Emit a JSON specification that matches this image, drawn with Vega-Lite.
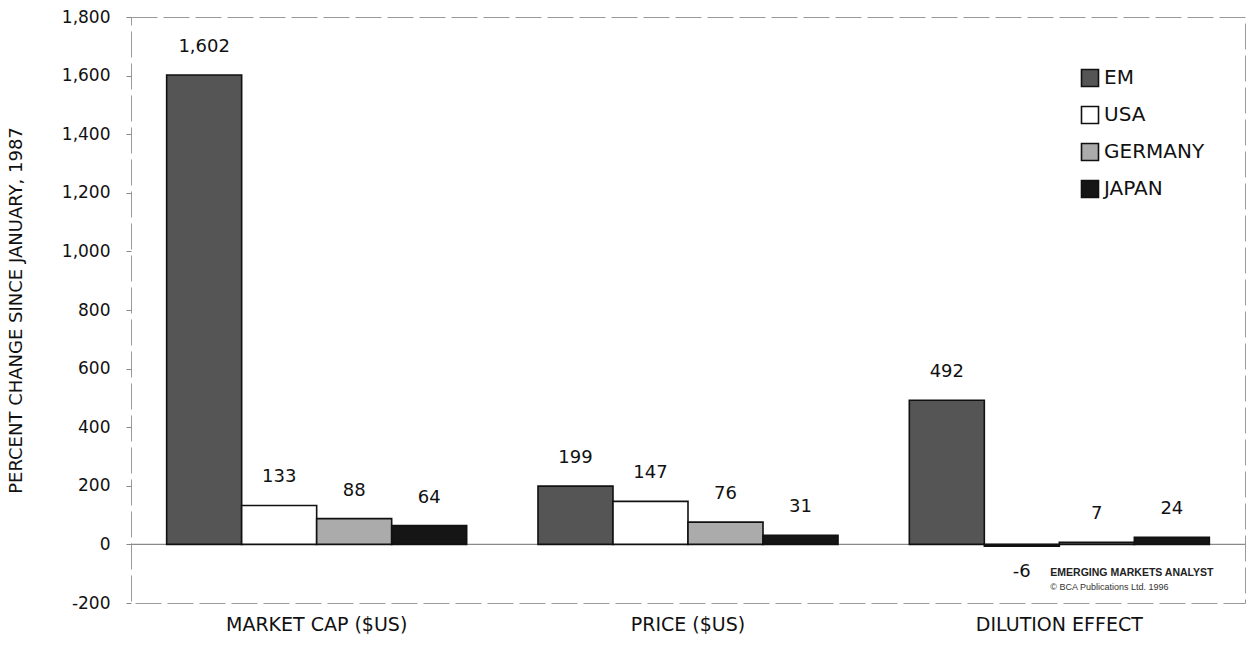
{
  "$schema": "https://vega.github.io/schema/vega-lite/v6.json",
  "width": 1114,
  "height": 586,
  "autosize": {"type": "none"},
  "padding": {"left": 131, "top": 17, "right": 8, "bottom": 42},
  "background": "white",
  "config": {
    "font": "DejaVu Sans",
    "view": {"stroke": "#9a9a9a", "strokeDash": [26, 6], "strokeWidth": 1}
  },
  "data": {
    "values": [
      {"measure": "MARKET CAP ($US)", "country": "EM", "value": 1602},
      {"measure": "MARKET CAP ($US)", "country": "USA", "value": 133},
      {"measure": "MARKET CAP ($US)", "country": "GERMANY", "value": 88},
      {"measure": "MARKET CAP ($US)", "country": "JAPAN", "value": 64},
      {"measure": "PRICE ($US)", "country": "EM", "value": 199},
      {"measure": "PRICE ($US)", "country": "USA", "value": 147},
      {"measure": "PRICE ($US)", "country": "GERMANY", "value": 76},
      {"measure": "PRICE ($US)", "country": "JAPAN", "value": 31},
      {"measure": "DILUTION EFFECT", "country": "EM", "value": 492},
      {"measure": "DILUTION EFFECT", "country": "USA", "value": -6},
      {"measure": "DILUTION EFFECT", "country": "GERMANY", "value": 7},
      {"measure": "DILUTION EFFECT", "country": "JAPAN", "value": 24}
    ]
  },
  "layer": [
    {
      "data": {"values": [{}]},
      "mark": {"type": "rule", "color": "#8a8a8a", "strokeWidth": 1.2},
      "encoding": {
        "y": {"datum": 0, "type": "quantitative", "scale": {"domain": [-200, 1800], "nice": false, "zero": false}}
      }
    },
    {
      "mark": {"type": "bar", "stroke": "#111", "strokeWidth": 1.6},
      "encoding": {
        "x": {
          "field": "measure", "type": "nominal",
          "sort": ["MARKET CAP ($US)", "PRICE ($US)", "DILUTION EFFECT"],
          "scale": {"paddingInner": 0.192, "paddingOuter": 0.096},
          "title": null,
          "axis": {"domain": false, "ticks": false, "labelAngle": 0, "labelFontSize": 19, "labelColor": "#111", "labelPadding": 21, "labelBaseline": "middle", "labelLimit": 0}
        },
        "xOffset": {
          "field": "country", "type": "nominal",
          "sort": ["EM", "USA", "GERMANY", "JAPAN"],
          "scale": {"paddingInner": 0, "paddingOuter": 0}
        },
        "y": {
          "field": "value", "type": "quantitative",
          "scale": {"domain": [-200, 1800], "nice": false, "zero": false},
          "title": "PERCENT CHANGE SINCE JANUARY, 1987",
          "axis": {
            "values": [-200, 0, 200, 400, 600, 800, 1000, 1200, 1400, 1600, 1800],
            "labelExpr": "replace(format(datum.value, ',.0f'), '\u2212', '-')",
            "grid": false,
            "domain": false,
            "tickColor": "#888",
            "tickSize": 5,
            "labelFontSize": 17,
            "labelColor": "#111",
            "labelPadding": 16,
            "titleFontSize": 18,
            "titleFontWeight": "normal",
            "titleColor": "#111",
            "titlePadding": 36
          }
        },
        "fill": {
          "field": "country", "type": "nominal",
          "scale": {"domain": ["EM", "USA", "GERMANY", "JAPAN"], "range": ["#555555", "#ffffff", "#ababab", "#151515"]},
          "legend": {
            "title": null,
            "orient": "none",
            "legendX": 949,
            "legendY": 51,
            "symbolType": "square",
            "symbolSize": 289,
            "symbolStrokeColor": "#111",
            "symbolStrokeWidth": 1.6,
            "labelFontSize": 20,
            "labelColor": "#111",
            "labelOffset": 4,
            "rowPadding": 13
          }
        }
      }
    },
    {
      "transform": [{"filter": "datum.value >= 0"}],
      "mark": {"type": "text", "fontSize": 18, "color": "#111", "baseline": "middle", "dy": -28},
      "encoding": {
        "x": {"field": "measure", "type": "nominal", "sort": ["MARKET CAP ($US)", "PRICE ($US)", "DILUTION EFFECT"]},
        "xOffset": {"field": "country", "type": "nominal", "sort": ["EM", "USA", "GERMANY", "JAPAN"]},
        "y": {"field": "value", "type": "quantitative"},
        "text": {"field": "value", "type": "quantitative", "format": ",d"}
      }
    },
    {
      "transform": [{"filter": "datum.value < 0"}],
      "mark": {"type": "text", "fontSize": 18, "color": "#111", "baseline": "middle", "dy": 26},
      "encoding": {
        "x": {"field": "measure", "type": "nominal", "sort": ["MARKET CAP ($US)", "PRICE ($US)", "DILUTION EFFECT"]},
        "xOffset": {"field": "country", "type": "nominal", "sort": ["EM", "USA", "GERMANY", "JAPAN"]},
        "y": {"field": "value", "type": "quantitative"},
        "text": {"field": "value", "type": "nominal"}
      }
    },
    {
      "data": {"values": [{"note": "EMERGING MARKETS ANALYST"}]},
      "mark": {"type": "text", "fontSize": 10.5, "fontWeight": "bold", "color": "#222", "align": "left", "baseline": "middle", "dx": -9, "font": "Liberation Sans"},
      "encoding": {
        "x": {"datum": "DILUTION EFFECT"},
        "y": {"datum": -96},
        "text": {"field": "note"}
      }
    },
    {
      "data": {"values": [{"note": "© BCA Publications Ltd. 1996"}]},
      "mark": {"type": "text", "fontSize": 9, "color": "#333", "align": "left", "baseline": "middle", "dx": -9, "font": "Liberation Sans"},
      "encoding": {
        "x": {"datum": "DILUTION EFFECT"},
        "y": {"datum": -147},
        "text": {"field": "note"}
      }
    }
  ]
}
